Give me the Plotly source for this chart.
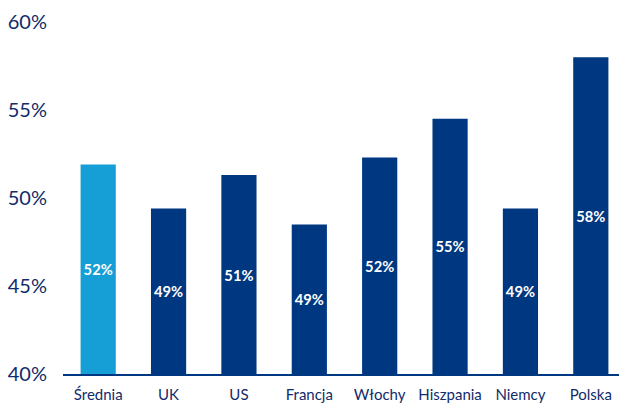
import plotly.graph_objects as go

categories = ["Średnia", "UK", "US", "Francja", "Włochy", "Hiszpania", "Niemcy", "Polska"]
values = [51.9, 49.4, 51.3, 48.5, 52.3, 54.5, 49.4, 58.0]
labels = ["52%", "49%", "51%", "49%", "52%", "55%", "49%", "58%"]
tick_vals = [40, 45, 50, 55, 60]
tick_text = ["40%", "45%", "50%", "55%", "60%"]

navy = "#003781"
light = "#159fd6"
text_col = "#122b6b"
colors = [light] + [navy] * (len(categories) - 1)

fig = go.Figure(go.Bar(
    x=categories,
    y=[v - 40 for v in values],
    base=40,
    marker=dict(color=colors, line=dict(width=0)),
    width=0.5,
    text=labels,
    textposition="inside",
    insidetextanchor="middle",
    textfont=dict(color="white", size=16, family="Lato", weight="bold"),
    textangle=0,
    hoverinfo="skip",
))

fig.update_layout(
    width=627, height=417,
    margin=dict(l=55, r=9, t=14, b=51),
    paper_bgcolor="white", plot_bgcolor="white",
    showlegend=False,
    font=dict(family="Lato", color=text_col),
)
fig.update_xaxes(
    showgrid=False, showline=True, linecolor=navy, linewidth=2,
    ticks="", tickfont=dict(size=15, color=text_col), ticklabelstandoff=6,
    automargin=False,
)
fig.update_yaxes(
    range=[40, 60], tickvals=tick_vals, ticktext=tick_text,
    showgrid=False, zeroline=False, showline=False, ticks="",
    tickfont=dict(size=20, color=text_col), ticklabelstandoff=15,
    automargin=False,
)

fig.write_html("out.html")
